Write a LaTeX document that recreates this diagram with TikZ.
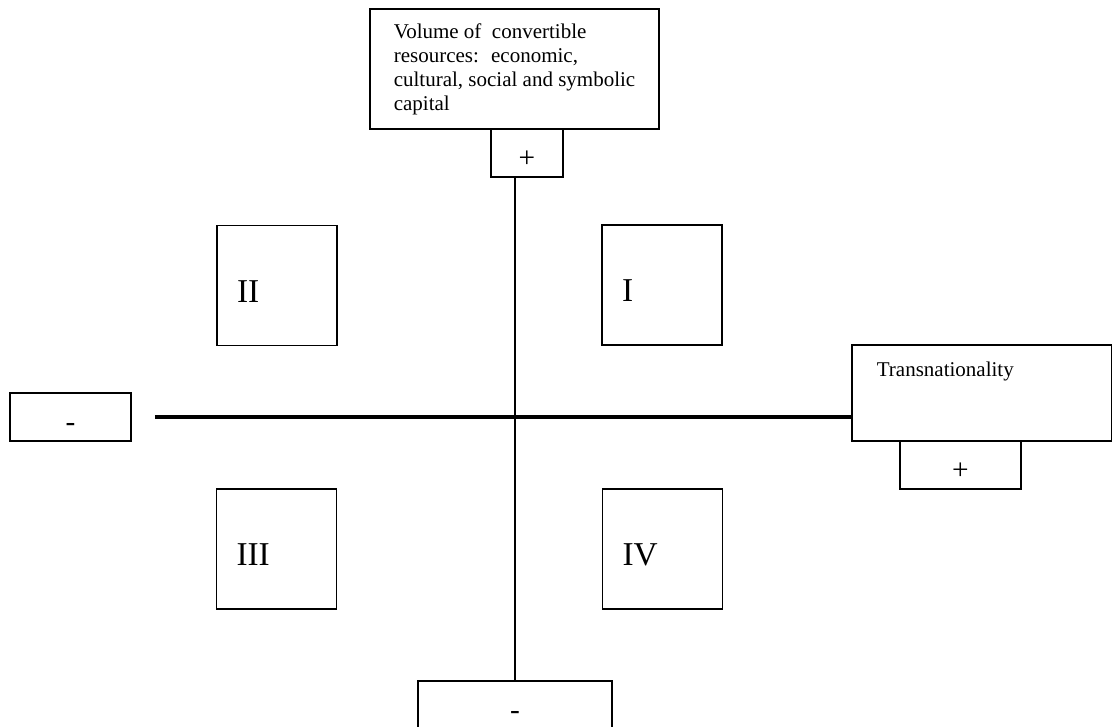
\documentclass[tikz,border=0pt]{standalone}
\usepackage{fontspec}
\setmainfont{Liberation Serif}
\usepackage{tikz}
\usetikzlibrary{calc}
\newcommand{\pxu}{0.75pt}
\tikzstyle{framebox}=[draw, line width=1.3pt, inner sep=0pt]
\tikzstyle{signbox}=[framebox, minimum height=48*\pxu, font=\fontsize{22}{26}\selectfont, text height=21pt, text depth=0pt]
\tikzstyle{quadbox}=[framebox, minimum width=120*\pxu, minimum height=120*\pxu, text width=60pt, inner xsep=15pt, align=left, font=\fontsize{25}{30}\selectfont, text height=25pt, text depth=0pt]
\tikzstyle{axislabel}=[font=\fontsize{15.75}{18}\selectfont]
\tikzstyle{xaxis}=[line width=2.4pt]
\tikzstyle{yaxis}=[line width=1.3pt]

\begin{document}
\begin{tikzpicture}[x=\pxu, y=-\pxu]
	\useasboundingbox (0,0) rectangle (1112,726);
	\clip (0,0) rectangle (1112,726);
%
	\node[framebox, axislabel, align=left, minimum width=289*\pxu, minimum height=120*\pxu] (vol) at (514.5,69) {Volume of~ convertible\\resources:~ economic,\\cultural, social and symbolic\\capital};
	\node[signbox, minimum width=72*\pxu] (ypos) at (527,153) {+};
	\node[signbox, minimum width=194*\pxu] (yneg) at (515,705) {-};
%
	\node[framebox, minimum width=260*\pxu, minimum height=96*\pxu] (trans) at (982,393) {};
	\node[axislabel, anchor=base west] (transtext) at ($(trans.north west)+(21,32)$) {Transnationality};
	\node[signbox, minimum width=121*\pxu] (xpos) at (960.5,465) {+};
	\node[signbox, minimum width=121*\pxu] (xneg) at (70.5,417) {-};
%
	\draw[yaxis] (yneg.north |- ypos.south) -- (yneg.north);
	\coordinate (xstart) at ($(xneg.east)+(23,0)$);
	\draw[xaxis] (xstart) -- (xstart -| trans.west);
%
	\node[quadbox] (q1) at (662,285) {I};
	\node[quadbox] (q2) at (277,285.5) {II};
	\node[quadbox] (q3) at (276.5,549) {III};
	\node[quadbox] (q4) at (662.5,549) {IV};
\end{tikzpicture}
\end{document}
